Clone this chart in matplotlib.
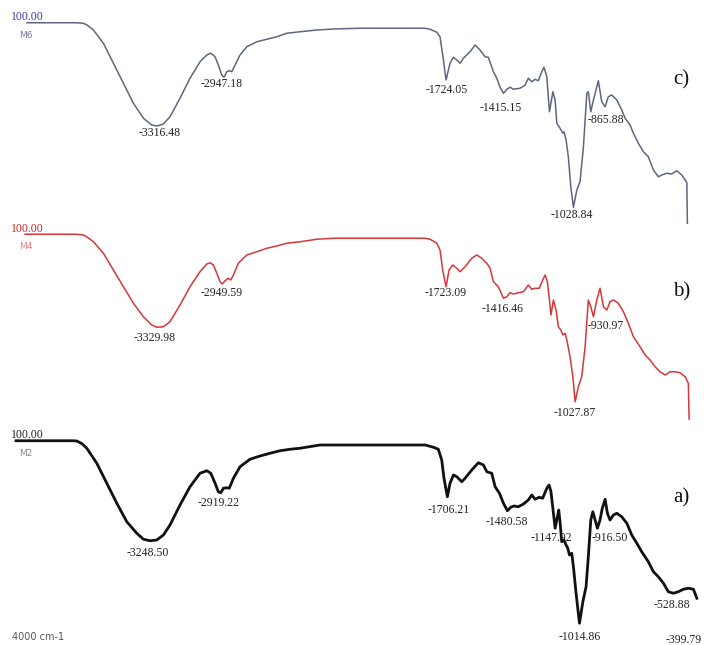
import matplotlib
matplotlib.use("Agg")
import matplotlib.pyplot as plt

# FTIR spectra (wavenumber in cm-1, transmittance in %)
c_wn = [3942, 3680, 3643, 3618, 3590, 3537, 3484, 3431, 3378, 3325, 3281, 3254, 3219, 3184, 3131, 3078,
        3025, 2989, 2968, 2945, 2928, 2910, 2898, 2883, 2870, 2857, 2839, 2813, 2777, 2724, 2671, 2618,
        2565, 2495, 2406, 2318, 2177, 1832, 1806, 1770, 1753, 1735, 1721, 1700, 1682, 1664, 1647, 1629,
        1594, 1567, 1541, 1514, 1497, 1470, 1452, 1435, 1417, 1399, 1382, 1364, 1329, 1302, 1285, 1267,
        1249, 1232, 1214, 1202, 1187, 1173, 1155, 1143, 1134, 1117, 1102, 1096, 1085, 1073, 1060, 1046,
        1028, 1011, 993, 975, 967, 954, 940, 914, 896, 878, 861, 843, 816, 790, 772, 746, 728, 702, 675,
        649, 622, 596, 578, 551, 525, 498, 472, 454, 445, 442]
c_t = [100, 100, 99.8, 98.8, 97.1, 91.8, 83.8, 75.8, 67.8, 61.8, 59.1, 58.7, 59.5, 62.4, 69.8, 77.8,
       84.4, 87.1, 87.8, 86.4, 83.1, 79.1, 78.2, 80.4, 80.8, 80.4, 83.1, 87.1, 90.4, 92.4, 93.4, 94.4,
       95.8, 96.4, 97.1, 97.5, 97.8, 97.8, 97.4, 96.2, 94.4, 85.1, 77.1, 83.8, 86.2, 85.1, 83.8, 85.8,
       88.4, 91.1, 89.1, 86.4, 86.2, 80.4, 77.8, 74.2, 71.8, 73.4, 74.2, 73.4, 73.8, 75.1, 77.8, 76.4,
       77.4, 76.8, 80.4, 82.2, 78.4, 64.4, 72.4, 69.1, 59.8, 57.8, 55.8, 56.4, 53.1, 46.4, 34.4, 26.2,
       33.1, 36.4, 50.4, 71.8, 72.4, 64.4, 69.1, 76.8, 68.4, 66.4, 70.4, 71.1, 69.1, 65.1, 61.8, 59.1,
       55.8, 51.8, 48.4, 46.4, 41.1, 38.4, 39.1, 39.8, 39.5, 40.8, 39.1, 37.1, 36.0, 19.8]

b_wn = [3952, 3680, 3643, 3618, 3590, 3537, 3484, 3431, 3378, 3325, 3281, 3254, 3219, 3184, 3131, 3078,
        3025, 2989, 2972, 2954, 2936, 2919, 2907, 2892, 2875, 2862, 2848, 2822, 2777, 2724, 2671, 2618,
        2565, 2495, 2406, 2318, 2177, 1832, 1806, 1770, 1753, 1739, 1721, 1705, 1686, 1664, 1647, 1620,
        1585, 1558, 1532, 1505, 1488, 1470, 1444, 1417, 1399, 1382, 1364, 1338, 1311, 1285, 1267, 1249,
        1227, 1209, 1196, 1184, 1173, 1165, 1152, 1138, 1126, 1113, 1102, 1090, 1081, 1064, 1049, 1037,
        1020, 1002, 984, 967, 954, 940, 922, 905, 887, 869, 852, 834, 808, 781, 755, 728, 693, 666, 640,
        613, 587, 560, 534, 507, 481, 454, 437, 433]
b_t = [100, 100, 99.7, 98.6, 97.0, 92.4, 85.7, 79.0, 72.4, 67.0, 63.7, 62.8, 63.0, 65.0, 71.7, 79.0,
       85.0, 88.1, 88.6, 87.7, 84.4, 81.0, 80.1, 81.4, 82.4, 81.7, 83.7, 88.4, 91.7, 93.0, 94.4, 95.3,
       96.4, 97.0, 98.0, 98.4, 98.4, 98.4, 98.0, 96.4, 93.7, 85.7, 79.0, 85.7, 87.7, 86.4, 85.0, 87.0,
       90.4, 91.7, 90.4, 88.4, 86.4, 81.0, 79.0, 74.4, 75.0, 76.6, 76.1, 76.6, 77.0, 79.7, 78.0, 78.4,
       78.4, 81.7, 83.7, 81.0, 73.7, 67.7, 73.7, 69.7, 63.0, 61.7, 59.7, 60.4, 57.7, 51.0, 43.0, 33.0,
       39.0, 43.0, 55.0, 73.7, 71.0, 67.0, 73.7, 78.4, 71.0, 69.7, 73.0, 73.7, 72.4, 69.0, 64.4, 59.0,
       55.0, 51.7, 49.7, 47.0, 45.0, 43.7, 45.0, 45.0, 44.6, 43.0, 40.4, 26.1]

a_wn = [4000, 3700, 3678, 3650, 3625, 3572, 3519, 3466, 3413, 3360, 3325, 3290, 3254, 3219, 3184, 3131,
        3078, 3025, 2989, 2968, 2945, 2928, 2915, 2901, 2883, 2870, 2848, 2813, 2760, 2707, 2654, 2601,
        2548, 2495, 2389, 2177, 1832, 1788, 1762, 1744, 1732, 1714, 1700, 1682, 1664, 1638, 1620, 1585,
        1550, 1523, 1505, 1479, 1461, 1438, 1417, 1396, 1378, 1361, 1338, 1311, 1285, 1267, 1249, 1227,
        1209, 1187, 1175, 1165, 1152, 1143, 1131, 1124, 1117, 1108, 1096, 1085, 1076, 1067, 1055, 1046,
        1032, 1014, 996, 979, 967, 954, 943, 931, 919, 905, 893, 878, 866, 852, 834, 816, 790, 763, 737,
        710, 684, 649, 622, 596, 569, 543, 516, 490, 463, 437, 410, 392]
a_t = [100, 100, 99.9, 98.8, 97.0, 91.0, 83.0, 75.0, 67.6, 63.0, 60.6, 60.0, 60.3, 62.3, 66.3, 74.3,
       81.6, 87.0, 88.0, 87.0, 83.0, 79.6, 79.2, 81.0, 81.2, 81.0, 85.0, 89.6, 92.6, 93.9, 95.0, 96.0,
       96.6, 97.0, 98.3, 98.3, 98.3, 97.4, 96.6, 92.3, 85.0, 77.6, 83.0, 86.3, 85.6, 83.6, 85.0, 88.3,
       91.2, 90.3, 87.6, 87.0, 81.6, 79.0, 75.0, 72.0, 73.4, 73.9, 73.6, 74.7, 76.3, 78.3, 76.6, 77.4,
       77.0, 81.0, 82.3, 79.6, 71.0, 65.0, 69.6, 72.3, 67.6, 59.6, 60.3, 58.3, 57.0, 54.3, 55.0, 49.6,
       39.0, 27.0, 35.6, 41.6, 53.6, 68.3, 71.6, 68.3, 65.0, 68.3, 73.0, 76.6, 71.0, 68.3, 70.3, 71.0,
       69.6, 67.0, 62.3, 59.0, 55.6, 51.6, 47.6, 45.6, 43.0, 39.6, 39.0, 39.6, 40.6, 41.0, 40.6, 37.0]

# peak labels: text, x (cm-1), y (%T)
c_labels = [("-3316.48", 3237, 55.9), ("-2947.18", 2908, 75.5), ("-1724.05", 1716, 73.1),
            ("-1415.15", 1430, 65.9), ("-1028.84", 1053, 23.1), ("-865.88", 873, 61.1)]
b_labels = [("-3329.98", 3263, 58.5), ("-2949.59", 2908, 76.5), ("-1723.09", 1721, 76.5),
            ("-1416.46", 1424, 70.1), ("-1027.87", 1037, 28.5), ("-930.97", 873, 63.3)]
a_labels = [("-3248.50", 3300, 55.1), ("-2919.22", 2929, 75.1), ("-1706.21", 1705, 72.3),
            ("-1480.58", 1398, 67.5), ("-1147.92", 1165, 61.1), ("-916.50", 852, 61.1),
            ("-528.88", 523, 34.3), ("-1014.86", 1011, 21.5), ("-399.79", 460, 20.3)]

# one axes covering the figure, spectra stacked with vertical offsets
fig = plt.figure(figsize=(7.04, 6.45), dpi=100)
ax = fig.add_axes([0, 0, 1, 1])
ax.set_xlim(4085, 354)
ax.set_ylim(-258, 0)
ax.axis('off')

serif = "Liberation Serif"

spectra = [
    # wn, t, offset, line colour, lw, top label colour, sample name, name colour, labels, panel tag
    (c_wn, c_t, -109.1, '#5e6680', 1.1, '#3a3aa8', 'M6', '#7a7ab4', c_labels, 'c)'),
    (b_wn, b_t, -193.7, '#d8363a', 1.1, '#c82828', 'M4', '#dc8080', b_labels, 'b)'),
    (a_wn, a_t, -276.3, '#111111', 2.0, '#222222', 'M2', '#8a8a8a', a_labels, 'a)'),
]

for wn, t, off, col, lw, top_col, name, name_col, labels, tag in spectra:
    ax.plot(wn, [v + off for v in t], color=col, lw=lw, solid_joinstyle='round', zorder=3)
    ax.text(4025, 102.3 + off, "100.00", color=top_col, fontsize=8.5, family=serif,
            ha='left', va='center', zorder=2)
    ax.text(3985, 95 + off, name, color=name_col, fontsize=6.5, ha='left', va='center')
    for txt, x, y in labels:
        ax.text(x, y + off, txt, color='#222222', fontsize=8.5, family=serif,
                ha='center', va='center', zorder=2)
    ax.text(475, 77 + off, tag, color='#111111', fontsize=15, family=serif,
            ha='center', va='center')

# axis start label at the bottom left
ax.text(4022, 21.4 - 276.3, "4000 cm-1", color='#555555', fontsize=7, ha='left', va='center')

fig.savefig("out.png", dpi=100)
